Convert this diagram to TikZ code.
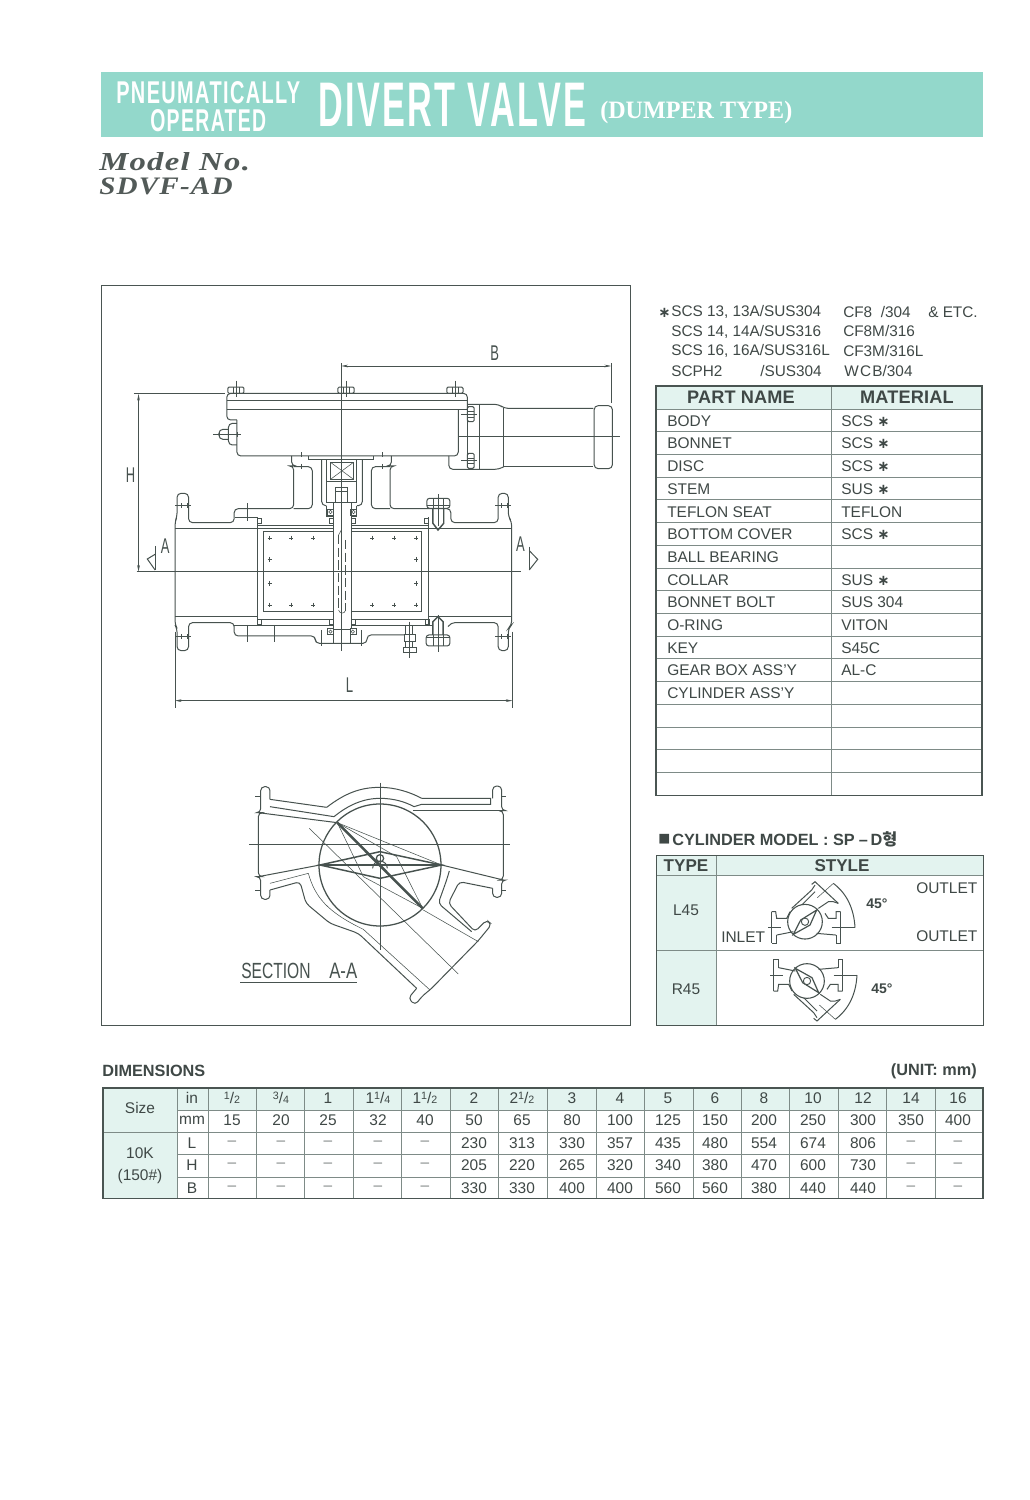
\documentclass[tikz,border=0pt]{standalone}
\usepackage{fontspec}
\usepackage{graphicx}
\usetikzlibrary{arrows.meta}
\setmainfont{Liberation Sans}
\newfontfamily\serifbody{Liberation Serif}
\newfontfamily\djv{DejaVu Sans}
\newfontfamily\krfont{Noto Sans CJK KR}
\definecolor{barcol}{HTML}{93D8CB}
\definecolor{mint}{HTML}{E3F3EF}
\definecolor{ink}{HTML}{3F4846}
\definecolor{drw}{HTML}{47524F}
\definecolor{grid}{HTML}{7E8B87}
\definecolor{gridk}{HTML}{4A5552}
\newcommand{\frc}[2]{{\fontsize{8}{8}\selectfont\raisebox{2.6pt}{#1}}/{\fontsize{8}{8}\selectfont\raisebox{-.4pt}{#2}}}
\newcommand{\stars}{{\djv\fontsize{11}{11}\selectfont\bfseries∗}}
\tikzset{
  vl/.style={line width=.75pt,draw=drw},
  rc/.style={vl,rounded corners=3pt},
  tl/.style={line width=.4pt,draw=drw},
  dimline/.style={line width=.4pt,draw=drw,{Stealth[length=5pt,width=2pt]}-{Stealth[length=5pt,width=2pt]}},
  lab/.style={inner sep=0,text=ink,font=\fontsize{11.5}{12}\selectfont},
  drawlab/.style={inner sep=0,text=drw},
  cell/.style={inner sep=0,text=ink,font=\fontsize{11.6}{12}\selectfont},
  nil/.style={inner sep=0,text=ink!65,font=\fontsize{11.6}{12}\selectfont},
  hd/.style={inner sep=0,text=ink,font=\bfseries\fontsize{13.6}{14}\selectfont},
  gridl/.style={line width=.6pt,draw=grid},
}
\begin{document}
\begin{tikzpicture}[x=0.75pt,y=-0.75pt]
\useasboundingbox (0,0) rectangle (1030,1500);
\fill[white] (0,0) rectangle (1030,1500);
% ---------- title bar
\fill[barcol] (101,72) rectangle (983,137);
\node[anchor=west,inner sep=0,text=white] (t1) at (116,93) {\resizebox{138pt}{16.5pt}{\bfseries\addfontfeatures{LetterSpace=7}PNEUMATICALLY}};
\node[anchor=west,inner sep=0,text=white] (t2) at (150,121) {\resizebox{87pt}{16.5pt}{\bfseries\addfontfeatures{LetterSpace=7}OPERATED}};
\node[anchor=west,inner sep=0,text=white] (t3) at (318,105) {\resizebox{201pt}{32.5pt}{\bfseries\addfontfeatures{LetterSpace=7}DIVERT VALVE}};
\node[anchor=west,inner sep=0,text=white] (t4) at (600,112.5) {\resizebox*{144pt}{17pt}{\serifbody\bfseries (DUMPER TYPE)}};
\node[anchor=west,inner sep=0,text=ink!90] (m1) at (99,161.5) {\resizebox{113pt}{13.5pt}{\serifbody\bfseries\itshape\addfontfeatures{LetterSpace=4}Model No.}};
\node[anchor=west,inner sep=0,text=ink!90] (m2) at (99,186.5) {\resizebox{100pt}{12.5pt}{\serifbody\bfseries\itshape\addfontfeatures{LetterSpace=4}SDVF-AD}};
% ---------- drawing frame
\draw[line width=.65pt,draw=gridk] (101.5,285) rectangle (630,1025);
% ---------- elevation view
\begin{scope}[shift={(100,340)},xscale=0.338,yscale=0.3333]
  % centre lines
  \draw[tl] (714,70)--(714,932);
  \draw[tl] (108,695)--(1245,695);
  \draw[tl] (1060,290)--(1538,290);
  % dimensions
  \coordinate (bl) at (714,78); \coordinate (br) at (1512,78);
  \draw[dimline] (bl)--(br);
  \draw[tl] (1512,70)--(1512,188);
  \coordinate (ht) at (114,162); \coordinate (hb) at (114,695);
  \draw[dimline] (ht)--(hb);
  \draw[tl] (100,160)--(370,160);
  \coordinate (ll) at (222,1082); \coordinate (lr) at (1220,1082);
  \draw[dimline] (ll)--(lr);
  \draw[tl] (222,875)--(222,1103);
  \draw[tl] (1220,875)--(1220,1103);
  \node[drawlab] (dB) at (1168,38) {\resizebox{6.5pt}{11pt}{B}};
  \node[drawlab] (dH) at (90,405) {\resizebox{7pt}{11pt}{H}};
  \node[drawlab] (dL) at (738,1037) {\resizebox{5.5pt}{11pt}{L}};
  \node[drawlab] (aL) at (193,620) {\resizebox{6.5pt}{11pt}{A}};
  \node[drawlab] (aR) at (1244,612) {\resizebox{6.5pt}{11pt}{A}};
  \draw[tl] (163,618)--(163,690);
  \draw[vl] (163,643)--(140,657)--(163,690);
  \draw[tl] (1270,620)--(1270,690);
  \draw[vl] (1270,632)--(1295,658)--(1270,690);
  % actuator box
  \draw[rc] (405,240)--(375,240)--(375,160)--(1087,160)--(1087,207);
  \draw[rc] (405,240)--(405,348)--(1060,348)--(1060,207);
  \draw[vl] (375,182)--(1087,182);
  \draw[vl] (375,207)--(1087,207);
  \foreach \bx in {402,728,1050}{
    \draw[vl,rounded corners=1pt] (\bx-24,141) rectangle (\bx+24,160);
    \draw[tl] (\bx-9,141)--(\bx-9,160);
    \draw[tl] (\bx+9,141)--(\bx+9,160);
    \draw[tl] (\bx,122)--(\bx,172);
  }
  % left plug
  \draw[rc] (405,250)--(380,250)--(380,315)--(405,315);
  \draw[rc] (380,268)--(352,268)--(352,298)--(380,298);
  \draw[tl] (335,284)--(418,284);
  \draw[tl] (352,277)--(352,291);
  \draw[tl] (405,277)--(405,291);
  % cylinder
  \draw[rc] (1087,193)--(1180,193)--(1195,205)--(1460,205);
  \draw[vl] (1195,380)--(1460,380);
  \draw[rc] (1032,348)--(1032,388)--(1180,388)--(1195,380);
  \draw[vl] (1122,193)--(1122,388);
  \draw[vl] (1195,205)--(1195,380);
  \draw[vl] (1087,207)--(1087,360);
  \draw[vl,rounded corners=3pt] (1462,197) rectangle (1516,386);
  \draw[vl,rounded corners=1pt] (1087,200) rectangle (1107,245);
  \draw[vl,rounded corners=1pt] (1087,340) rectangle (1107,385);
  \draw[tl] (1087,214)--(1107,214) (1087,231)--(1107,231) (1087,354)--(1107,354) (1087,371)--(1107,371);
  \draw[tl] (1068,222)--(1115,222) (1068,362)--(1115,362);
  % yoke and body outline
  \draw[vl] (617,348)--(617,358)--(810,358)--(810,348);
  \draw[rc] (567,348)--(567,378)--(573,378)--(573,506)--(397,506)--(397,548)--(262,548)--(262,460)--(228,460)--(228,530)--(222,545)--(222,855)--(228,865)--(228,932)--(262,932)--(262,848)--(397,848)--(397,888)--(637,888)--(637,910)--(790,910)--(790,885)--(900,885);
  \draw[rc] (573,380)--(628,380)--(628,506)--(573,506);
  \draw[rc] (862,348)--(862,378)--(858,378)--(858,506)--(1038,506)--(1038,548)--(1178,548)--(1178,460)--(1208,460)--(1208,530)--(1218,545)--(1218,855)--(1208,865)--(1208,932)--(1178,932)--(1178,848)--(1038,848)--(1030,860);
  \draw[rc] (858,380)--(803,380)--(803,506)--(858,506);
  % central body
  \draw[vl] (465,556)--(690,556) (745,556)--(972,556);
  \draw[vl] (465,532)--(465,858) (972,532)--(972,858);
  \draw[vl] (400,532)--(465,532);
  \draw[vl] (222,566)--(690,566) (745,566)--(1218,566);
  \draw[vl] (222,830)--(465,830) (972,830)--(1218,830);
  \draw[vl] (465,838)--(690,838) (745,838)--(972,838);
  \draw[vl] (397,858)--(690,858) (745,858)--(985,858);
  \draw[line width=.9pt,draw=drw] (688,575)--(484,575)--(484,815)--(688,815);
  \draw[line width=.9pt,draw=drw] (745,575)--(952,575)--(952,815)--(745,815);
  % fasteners in the disc
  \foreach \px/\py in {502/594,566/594,630/594,805/594,870/594,935/594,502/795,566/795,630/795,805/795,870/795,935/795,502/658,935/658,502/730,935/730}{
    \draw[tl] (\px-6,\py)--(\px+6,\py) (\px,\py-7)--(\px,\py+7);
  }
  % stem
  \draw[vl] (690,487)--(690,908) (745,487)--(745,868);
  \draw[vl] (740,868)--(740,908);
  \draw[vl] (690,868)--(740,868);
  \draw[vl] (697,487)--(697,443)--(733,443)--(733,487);
  \draw[tl] (697,453)--(733,453);
  \draw[vl,dash pattern=on 7pt off 2.5pt] (706,585)--(706,810);
  \draw[vl,dash pattern=on 7pt off 2.5pt] (726,600)--(726,812);
  \draw[tl] (706,585)--(714,570);
  \draw[tl] (706,810) .. controls (708,822) and (724,822) .. (726,812);
  % coupling
  \draw[rc] (656,358)--(656,497)--(670,497);
  \draw[rc] (776,358)--(776,497)--(760,497);
  \draw[vl] (670,358)--(670,487) (760,358)--(760,487);
  \draw[vl] (670,487)--(760,487);
  \draw[vl] (670,425)--(760,425);
  \draw[line width=.9pt,draw=drw] (682,367) rectangle (750,418);
  \draw[tl] (682,367)--(750,418) (682,418)--(750,367);
  \draw[vl] (670,497)--(670,530)--(690,530) (745,530)--(760,530)--(760,497);
  % small bearings and seals
  \foreach \sx/\sy in {682/516,750/516,682/875,748/875}{
    \draw[tl] (\sx-9,\sy-9) rectangle (\sx+9,\sy+9);
    \draw[tl] (\sx,\sy) circle [x radius=5,y radius=5];
  }
  \foreach \sx/\sy in {470/543,966/543,470/845,968/845,683/543,748/543,683/845,748/845}{
    \draw[tl] (\sx-6,\sy-8) rectangle (\sx+6,\sy+8);
  }
  % pin plugs
  \draw[vl,rounded corners=2pt] (967,475) rectangle (1035,505);
  \draw[tl] (967,495)--(1035,495) (985,475)--(985,505) (1015,475)--(1015,505);
  \draw[line width=1.1pt,draw=drw] (985,505)--(985,550)--(1000,570)--(1017,550)--(1017,505);
  \draw[tl] (1000,463)--(1000,558);
  \draw[vl,rounded corners=2pt] (965,885) rectangle (1035,918);
  \draw[tl] (965,893)--(1035,893) (985,885)--(985,918) (1015,885)--(1015,918);
  \draw[line width=1.1pt,draw=drw] (985,885)--(985,845)--(1000,830)--(1015,845)--(1015,885);
  \draw[tl] (1000,825)--(1000,935);
  % stud
  \draw[tl] (915,845)--(915,955);
  \draw[vl] (905,858)--(905,885) (925,858)--(925,885) (905,905)--(905,922) (925,905)--(925,922);
  \draw[vl] (900,885) rectangle (932,905);
  \draw[vl] (898,922) rectangle (935,937);
  % flange and cover bolts
  \draw[tl] (222,497)--(268,497) (1170,497)--(1215,497) (222,890)--(268,890) (1170,890)--(1215,890);
  \draw[tl] (240,490)--(240,504) (258,490)--(258,504) (1187,490)--(1187,504) (1205,490)--(1205,504);
  \draw[tl] (240,883)--(240,897) (258,883)--(258,897) (1187,883)--(1187,897) (1205,883)--(1205,897);
  \draw[tl] (435,490)--(435,542) (410,531)--(460,531);
  \draw[tl] (435,855)--(435,905) (515,855)--(515,905);
  \draw[tl] (595,337)--(595,352) (595,372)--(595,386) (835,337)--(835,352) (835,372)--(835,386);
  \draw[tl] (655,870)--(655,918) (772,870)--(772,918);
\end{scope}
% ---------- section A-A
\begin{scope}[shift={(220,770)},xscale=0.3333,yscale=0.3333]
  \coordinate (cc) at (480,285);
  \draw[tl] (480,38)--(480,540);
  \draw[tl] (88,222)--(870,222);
  \draw[tl] (268,175)--(715,612);
  \draw[line width=.95pt,draw=drw] (cc) circle [radius=183];
  % left inlet
  \draw[rc] (150,88)--(150,50)--(122,50)--(122,128)--(115,128)--(115,320)--(122,320)--(122,388)--(150,388)--(150,360);
  \draw[vl] (115,128)--(352,158);
  \draw[vl] (115,320)--(300,285);
  \draw[vl] (150,88)--(320,112);
  \draw[vl] (150,110)--(342,140);
  \draw[vl] (320,112) .. controls (375,70) and (420,52) .. (480,52) .. controls (525,52) and (570,66) .. (605,85);
  \draw[vl] (342,140) .. controls (385,105) and (430,85) .. (480,85) .. controls (520,85) and (555,95) .. (582,110);
  \draw[vl] (605,85)--(812,85)--(812,103)--(605,103)--(582,110);
  \draw[vl] (580,122)--(850,122);
  % right outlet
  \draw[rc] (818,85)--(818,48)--(845,48)--(845,122)--(850,122)--(850,330)--(845,330)--(845,382)--(818,382)--(818,355);
  \draw[vl] (665,285)--(850,330);
  \draw[tl] (106,80)--(122,80) (106,362)--(122,362) (845,80)--(858,80) (845,362)--(858,362);
  % lower walls
  \draw[rc] (150,360)--(240,335)--(258,400)--(330,460)--(415,490)--(590,655);
  \draw[tl] (150,340)--(265,310) .. controls (285,380) and (320,425) .. (430,478)--(630,660);
  \draw[rc] (818,355)--(718,335)--(685,400)--(765,485)--(800,450)--(815,463)--(775,512)--(630,660)--(610,675)--(585,705)--(565,685)--(590,655);
  \draw[rc] (688,303)--(680,330)--(655,400)--(755,485);
  \draw[tl] (610,420)--(775,515);
  % disc
  \draw[line width=1.1pt,draw=drw] (300,285)--(480,245)--(665,285)--(480,325)--cycle;
  \draw[line width=1.9pt,draw=drw] (300,285)--(665,285);
  \draw[line width=1.9pt,draw=drw] (352,158)--(608,415);
  \draw[tl] (352,158)--(530,260)--(608,415)--(430,320)--cycle;
  \draw[tl] (352,158)--(665,285);
  \draw[line width=.95pt,draw=drw] (480,265) circle [radius=11];
  \draw[vl] (458,295) arc [start angle=180,end angle=360,radius=22];
  \node[drawlab,anchor=west] (sec1) at (63,603) {\resizebox{52pt}{11.5pt}{SECTION}};
  \node[drawlab,anchor=west] (sec2) at (327,603) {\resizebox{21pt}{11.5pt}{A-A}};
  \draw[vl] (60,637)--(412,637);
\end{scope}
% ---------- note above parts table
\node[anchor=west,inner sep=0,text=ink] (st) at (658,312.5) {\djv\fontsize{11}{11}\selectfont\bfseries∗};
\node[lab,anchor=west] (n1a) at (671,312) {SCS 13, 13A/SUS304};
\node[lab,anchor=west] (n1b) at (843,312) {CF8\hspace{6.5pt}/304};
\node[lab,anchor=west] (n1c) at (928,312) {\& ETC.};
\node[lab,anchor=west] (n2a) at (671,331.5) {SCS 14, 14A/SUS316};
\node[lab,anchor=west] (n2b) at (843,331.5) {CF8M/316};
\node[lab,anchor=west] (n3a) at (671,351) {SCS 16, 16A/SUS316L};
\node[lab,anchor=west] (n3b) at (843,351) {CF3M/316L};
\node[lab,anchor=west] (n4a) at (671,371) {SCPH2};
\node[lab,anchor=west] (n4b) at (760,371) {/SUS304};
\node[lab,anchor=west] (n4c) at (844,371) {W\hspace{1pt}C\hspace{1pt}B/304};
% ---------- parts table
\fill[mint] (656,386) rectangle (982,409);
\foreach \k in {0,...,16}{
  \pgfmathsetmacro{\yy}{409+22.71*\k}
  \draw[gridl] (656,\yy)--(982,\yy);
}
\draw[gridl] (831,386)--(831,795);
\draw[line width=1.3pt,draw=gridk] (656,386) rectangle (982,795.5);
\node[hd] (ph1) at (741,397.5) {\addfontfeatures{LetterSpace=1}PART NAME};
\node[hd] (ph2) at (907,397.5) {\addfontfeatures{LetterSpace=1}MATERIAL};
\foreach \k/\pn/\mt in {0/BODY/SCS \stars,1/BONNET/SCS \stars,2/DISC/SCS \stars,3/STEM/SUS \stars,4/TEFLON SEAT/TEFLON,5/BOTTOM COVER/SCS \stars,6/BALL BEARING/,7/COLLAR/SUS \stars,8/BONNET BOLT/SUS 304,9/O-RING/VITON,10/KEY/S45C,11/GEAR BOX ASS'Y/AL-C,12/CYLINDER ASS'Y/}{
  \pgfmathsetmacro{\yy}{409+22.71*(\k+0.5)+0.5}
  \node[cell,anchor=west] (pa\k) at (667,\yy) {\pn};
  \node[cell,anchor=west] (pb\k) at (841,\yy) {\mt};
}
% ---------- cylinder table
\node[anchor=west,inner sep=0,text=ink] (cmsq) at (658,839) {\djv\fontsize{9.5}{10}\selectfont■};
\node[anchor=west,inner sep=0,text=ink,font=\bfseries\fontsize{12.2}{13}\selectfont] (cm) at (672,839) {CYLINDER MODEL : SP\hspace{3pt}–\hspace{2pt}D{\krfont\bfseries 형}};
\fill[mint] (656,855) rectangle (983,875);
\fill[mint] (656,875) rectangle (716,1025);
\draw[gridl] (656,875)--(983,875);
\draw[gridl] (656,950)--(983,950);
\draw[gridl] (716,855)--(716,1025);
\draw[line width=.75pt,draw=gridk] (656,855) rectangle (983,1025);
\node[hd,font=\bfseries\fontsize{12.8}{13}\selectfont] (ct1) at (686,866) {TYPE};
\node[hd,font=\bfseries\fontsize{12.8}{13}\selectfont] (ct2) at (842,866) {STYLE};
\node[cell] (l45) at (686,910) {L45};
\node[cell] (r45) at (686,989) {R45};
\node[cell,anchor=west] (o1) at (916,888.5) {OUTLET};
\node[cell,anchor=west] (i1) at (721,937) {INLET};
\node[cell,anchor=west] (o2) at (916,936.5) {OUTLET};
\node[inner sep=0,text=ink,font=\bfseries\fontsize{10.5}{11}\selectfont] (d1) at (877,904) {45°};
\node[inner sep=0,text=ink,font=\bfseries\fontsize{10.5}{11}\selectfont] (d2) at (882,989) {45°};
\foreach \cy/\fl/\mx in {921.7/-1/805,981/1/807}{
\begin{scope}[shift={(\mx,\cy)},xscale=0.3333,yscale=-0.3333*\fl]
  \draw[line width=.8pt,draw=drw] (0,0) circle [radius=52];
  % horizontal run
  \draw[vl] (-100,-30)--(-88,-30)--(-85,-10)--(-55,-10)--(-45,-30);
  \draw[vl] (-100,-30)--(-100,65);
  \draw[vl] (-85,40)--(-85,65)--(-100,65);
  \draw[vl] (-85,40)--(-35,30);
  \draw[vl] (107,-30)--(93,-30)--(93,-10)--(70,-10)--(60,-25);
  \draw[vl] (107,-30)--(107,65);
  \draw[vl] (93,40)--(93,65)--(107,65);
  \draw[vl] (93,40)--(35,35);
  \draw[tl] (-110,18)--(-73,18);
  \draw[tl] (80,18)--(150,18);
  % angled outlet
  \draw[vl] (-40,-40)--(20,-95)--(30,-110);
  \draw[vl] (-10,-50)--(30,-90);
  \draw[vl] (20,-112)--(30,-120)--(100,-55);
  \draw[vl] (40,-40)--(70,-60)--(85,-60)--(100,-55);
  \draw[tl] (37,-72)--(85,-115);
  % sweep
  \draw[vl] (85,-115) .. controls (125,-85) and (147,-40) .. (150,18);
  % disc
  \draw[line width=.9pt,draw=drw] (-35,38)--(-13,-5)--(35,-35)--(15,10)--cycle;
  \draw[line width=.7pt,draw=drw,fill=white] (0,0) circle [radius=11];
\end{scope}
}
% ---------- dimensions table
\node[anchor=west,inner sep=0,text=ink,font=\bfseries\fontsize{12.2}{13}\selectfont] (dimt) at (102,1071) {DIMENSIONS};
\node[anchor=east,inner sep=0,text=ink,font=\bfseries\fontsize{12.2}{13}\selectfont] (unit) at (977,1071.5) {(UNIT: mm)};
\fill[mint] (103,1088) rectangle (177,1198);
\fill[mint] (177,1088) rectangle (983,1110);
\draw[gridl] (177,1110)--(983,1110);
\draw[gridl] (103,1132)--(983,1132);
\draw[gridl] (177,1154)--(983,1154);
\draw[gridl] (177,1177)--(983,1177);
\foreach \vx in {177,208,256,304,353,401,450,498,547,596,644,693,741,789,838,886,935}{
  \draw[gridl] (\vx,1088)--(\vx,1198);
}
\draw[line width=1.2pt,draw=gridk] (103,1088) rectangle (983,1198.5);
\node[cell] (sz) at (140,1108) {Size};
\node[cell] (k1) at (140,1153) {10K};
\node[cell] (k2) at (140,1176) {(150\#)};
\node[cell] (ri) at (192,1098) {in};
\node[cell] (rm) at (192,1120) {mm};
\node[cell] (rl) at (192,1143) {L};
\node[cell] (rh) at (192,1165) {H};
\node[cell] (rb) at (192,1188) {B};
\foreach \tx/\tv in {232/\frc{1}{2},281/\frc{3}{4},328/1,378/1\frc{1}{4},425/1\frc{1}{2},474/2,522/2\frc{1}{2},572/3,620/4,668/5,715/6,764/8,813/10,863/12,911/14,958/16}{
  \node[cell] at (\tx,1098) {\tv};
}
\foreach \tx/\a in {232/15,281/20,328/25,378/32,425/40,474/50,522/65,572/80,620/100,668/125,715/150,764/200,813/250,863/300,911/350,958/400}{
  \node[cell] at (\tx,1120) {\a};
}
\foreach \tx in {232,281,328,378,425,911,958}{
  \node[nil] at (\tx,1143) {--};
  \node[nil] at (\tx,1165) {--};
  \node[nil] at (\tx,1188) {--};
}
\foreach \tx/\b/\c/\d in {474/230/205/330,522/313/220/330,572/330/265/400,620/357/320/400,668/435/340/560,715/480/380/560,764/554/470/380,813/674/600/440,863/806/730/440}{
  \node[cell] at (\tx,1143) {\b};
  \node[cell] at (\tx,1165) {\c};
  \node[cell] at (\tx,1188) {\d};
}
\end{tikzpicture}
\end{document}
